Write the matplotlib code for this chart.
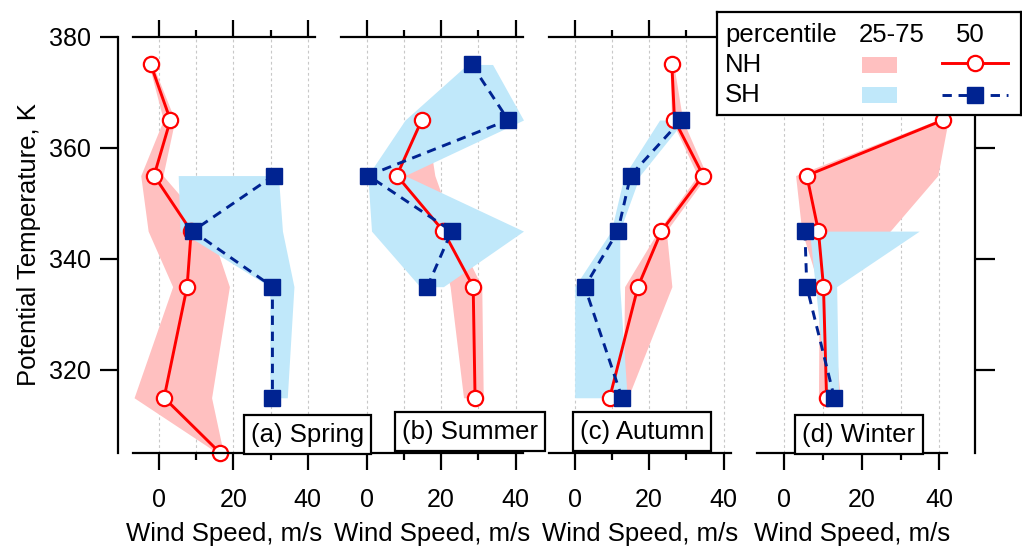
import numpy as np
import matplotlib.pyplot as plt
from matplotlib.patches import Rectangle
from matplotlib.lines import Line2D

plt.rcParams['font.family'] = ['Liberation Sans', 'DejaVu Sans']

nan = np.nan
theta = [375, 365, 355, 345, 335, 325, 315, 305]

# (a) spring
spring_nh_med = [-2.3, 3.0, -1.4, 8.6, 7.5, nan, 1.3, 16.5]
spring_nh_lo = [-2.8, 1.1, -5.0, -3.0, 3.6, nan, -6.8, 15.8]
spring_nh_hi = [-1.8, 4.2, 1.0, 13.9, 18.9, nan, 14.1, 17.3]
spring_sh_med = [nan, nan, 30.9, 9.0, 30.5, nan, 30.5, nan]
spring_sh_lo = [nan, nan, 5.1, 5.6, 29.8, nan, 29.8, nan]
spring_sh_hi = [nan, nan, 32.1, 33.2, 36.3, nan, 34.5, nan]

# (b) summer
summer_nh_med = [nan, 14.8, 8.1, 20.6, 28.6, nan, 29.1, nan]
summer_nh_lo = [nan, 13.5, 7.0, 19.0, 22.4, nan, 26.0, nan]
summer_nh_hi = [nan, 16.0, 18.3, 23.6, 30.9, nan, 31.3, nan]
summer_sh_med = [28.2, 38.0, 0.4, 22.8, 16.3, nan, nan, nan]
summer_sh_lo = [27.0, 10.3, 0.3, 1.3, 14.3, nan, nan, nan]
summer_sh_hi = [33.8, 42.1, 10.3, 42.1, 20.6, nan, nan, nan]

# (c) autumn
autumn_nh_med = [26.1, 26.8, 34.5, 23.3, 17.0, nan, 9.4, nan]
autumn_nh_lo = [25.6, 26.0, 33.0, 22.4, 13.4, nan, 13.0, nan]
autumn_nh_hi = [26.6, 29.0, 35.5, 24.6, 26.1, nan, 14.3, nan]
autumn_sh_med = [nan, 28.6, 15.0, 11.6, 2.7, nan, 12.7, nan]
autumn_sh_lo = [nan, 22.8, 13.3, 9.8, 0.0, nan, 0.0, nan]
autumn_sh_hi = [nan, 29.5, 17.5, 12.1, 12.1, nan, 14.1, nan]

# (d) winter
winter_nh_med = [nan, 41.0, 5.8, 8.8, 10.1, nan, 10.9, nan]
winter_nh_lo = [nan, 39.5, 2.9, 4.5, 9.0, nan, 8.8, nan]
winter_nh_hi = [nan, 42.3, 39.6, 27.3, 12.0, nan, 14.4, nan]
winter_sh_med = [nan, nan, nan, 5.3, 5.8, nan, 12.9, nan]
winter_sh_lo = [nan, nan, nan, 6.5, 8.0, nan, 11.0, nan]
winter_sh_hi = [nan, nan, nan, 34.8, 13.5, nan, 14.0, nan]

titles = ['(a) Spring', '(b) Summer', '(c) Autumn', '(d) Winter']
xticks = [0, 20, 40]
yticks = [320, 340, 360, 380]

pink = '#ffc0c0'
sky = '#c0e8fa'
red = '#ff0000'
navy = '#002391'

seasons = [
    (spring_nh_med, spring_nh_lo, spring_nh_hi, spring_sh_med, spring_sh_lo, spring_sh_hi),
    (summer_nh_med, summer_nh_lo, summer_nh_hi, summer_sh_med, summer_sh_lo, summer_sh_hi),
    (autumn_nh_med, autumn_nh_lo, autumn_nh_hi, autumn_sh_med, autumn_sh_lo, autumn_sh_hi),
    (winter_nh_med, winter_nh_lo, winter_nh_hi, winter_sh_med, winter_sh_lo, winter_sh_hi),
]

W, H = 1022, 555
fig = plt.figure(figsize=(W / 100, H / 100), dpi=100)


def rect(l, r, t, b):
    return [l / W, 1 - b / H, (r - l) / W, (b - t) / H]


panel_left = [133.3, 340.6, 548.6, 757.2]
panel_right = [315.1, 523.1, 731.1, 947.1]
box_pos = [(0.958, 0.045), (0.709, 0.052), (0.512, 0.052), (0.536, 0.045)]
y_top, y_bot = 36.7, 453.3

th = np.array(theta, dtype=float)
lw = 2.1
dash = (3.2, 2.3)

for i, (data, title) in enumerate(zip(seasons, titles)):
    nh_med, nh_lo, nh_hi, sh_med, sh_lo, sh_hi = [np.array(d, dtype=float) for d in data]
    ax = fig.add_axes(rect(panel_left[i], panel_right[i], y_top, y_bot))
    ax.set_zorder(5 - i)
    ax.set_xlim(-7, 42)
    ax.set_ylim(305, 380)
    ax.set_axisbelow(True)
    ax.grid(axis='x', which='both', color='#c8c8c8', lw=0.8, linestyle=(0, (2.5, 2.5)))

    m = ~np.isnan(nh_lo)
    ax.fill_betweenx(th[m], nh_lo[m], nh_hi[m], color=pink, lw=0, zorder=1)
    m = ~np.isnan(sh_lo)
    ax.fill_betweenx(th[m], sh_lo[m], sh_hi[m], color=sky, lw=0, zorder=1.1)
    m = ~np.isnan(nh_med)
    ax.plot(nh_med[m], th[m], color=red, lw=lw, marker='o', ms=11, mfc='white',
            mec=red, mew=1.6, zorder=2, clip_on=False)
    m = ~np.isnan(sh_med)
    ax.plot(sh_med[m], th[m], color=navy, lw=lw, dashes=dash, marker='s', ms=11.5,
            mfc=navy, mec=navy, zorder=2.1, clip_on=False)

    ax.set_xticks(xticks)
    ax.set_xticks([10, 30], minor=True)
    ax.tick_params(axis='x', which='major', direction='out', length=12.5, width=1.6,
                   top=True, bottom=True, labelsize=18, pad=12.5)
    ax.tick_params(axis='x', which='minor', direction='out', length=5, width=1.6,
                   top=True, bottom=True)
    ax.set_xlabel('Wind Speed, m/s', fontsize=18.5)
    ax.xaxis.set_label_coords(0.5, -0.165)

    for s in ['top', 'bottom', 'left', 'right']:
        ax.spines[s].set_linewidth(1.6)
    ax.spines['left'].set_visible(False)
    ax.spines['right'].set_visible(False)
    ax.set_yticks(yticks)
    ax.tick_params(axis='y', left=False, right=False, labelleft=False)

    if i == 0:
        ax.spines['left'].set_visible(True)
        ax.spines['left'].set_position(('outward', 10.8))
        ax.tick_params(axis='y', left=True, direction='out', length=13, width=1.6,
                       labelleft=True, labelsize=18, pad=7)
        ax.set_ylabel('Potential Temperature, K', fontsize=18.5)
        ax.yaxis.set_label_coords(-0.505, 0.5)
    if i == 3:
        ax.spines['right'].set_visible(True)
        ax.spines['right'].set_position(('outward', 20))
        ax.tick_params(axis='y', right=True, direction='out', length=14.4, width=1.6,
                       labelright=False)

    ax.text(box_pos[i][0], box_pos[i][1], title, transform=ax.transAxes, ha='center',
            va='center', fontsize=18.5, zorder=6,
            bbox=dict(boxstyle='square,pad=0.28', fc='white', ec='black', lw=1.6))

# legend box
lg = fig.add_axes(rect(717.3, 1021, 11.7, 115))
lg.set_zorder(10)
lg.set_xlim(717.3, 1021)
lg.set_ylim(115, 11.7)
lg.set_xticks([])
lg.set_yticks([])
for s in lg.spines.values():
    s.set_linewidth(1.6)
lg.text(725, 41.7, 'percentile', fontsize=18.5, va='baseline', ha='left')
lg.text(892, 41.7, '25-75', fontsize=18.5, va='baseline', ha='center')
lg.text(970, 41.7, '50', fontsize=18.5, va='baseline', ha='center')
lg.text(725, 71.7, 'NH', fontsize=18.5, va='baseline', ha='left')
lg.text(725, 101.7, 'SH', fontsize=18.5, va='baseline', ha='left')
lg.add_patch(Rectangle((862.3, 56.7), 34.4, 16.6, color=pink, lw=0))
lg.add_patch(Rectangle((862.3, 87.3), 34.4, 16.0, color=sky, lw=0))
lg.add_line(Line2D([941.7, 975, 1008], [63.3, 63.3, 63.3], color=red, lw=lw, marker='o',
                   ms=11, mfc='white', mec=red, mew=1.6, markevery=[1]))
lg.add_line(Line2D([941.7, 975, 1008], [95, 95, 95], color=navy, lw=lw, dashes=dash,
                   marker='s', ms=11.5, mfc=navy, mec=navy, markevery=[1]))

fig.savefig('out.png', dpi=100)
